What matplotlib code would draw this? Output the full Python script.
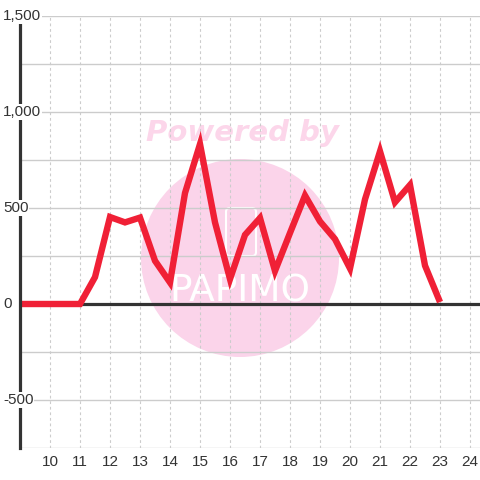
import matplotlib
matplotlib.use("Agg")
import matplotlib.pyplot as plt
import matplotlib.transforms as mtransforms
from matplotlib.patches import Circle, FancyBboxPatch
import numpy as np

# data
hours = [9, 10, 11, 11.5, 12, 12.5, 13, 13.5, 14, 14.5, 15, 15.5, 16, 16.5,
         17, 17.5, 18, 18.5, 19, 19.5, 20, 20.5, 21, 21.5, 22, 22.5, 23]
values = [0, 0, 0, 140, 453, 425, 450, 225, 112, 578, 833, 425, 130, 360,
          448, 172, 370, 565, 430, 338, 185, 545, 795, 530, 620, 200, 10]
x_ticks = list(range(10, 25))
y_major = [-500, 0, 500, 1000, 1500]
y_labels = ["-500", "0", "500", "1,000", "1,500"]
y_grid = [-750, -500, -250, 0, 250, 500, 750, 1000, 1250, 1500]

plt.rcParams['font.family'] = ['Liberation Sans', 'DejaVu Sans']

fig = plt.figure(figsize=(4.8, 4.8), dpi=100)
fig.patch.set_facecolor("white")
ax = fig.add_axes([20 / 480, 1 - 448 / 480, 1 - 20 / 480, (448 - 16) / 480])

ax.set_xlim(9, 24.333)
ax.set_ylim(-750, 1500)

# watermark
ax.add_patch(Circle((240 / 480, 1 - 258 / 480), 99 / 480, transform=fig.transFigure,
                    facecolor="#fbd4ea", edgecolor="none", zorder=0.1, clip_on=False))
ax.add_patch(FancyBboxPatch((226 / 480, 1 - 256 / 480), 30 / 480, 48 / 480,
                            boxstyle="round,pad=0,rounding_size=0.008",
                            transform=fig.transFigure, facecolor="none",
                            edgecolor="white", linewidth=1.5, zorder=0.2, clip_on=False))
ax.text(242 / 480, 1 - 133 / 480, "Powered by", transform=fig.transFigure,
        fontsize=21, fontweight="bold", fontstyle="italic", color="#fcd6ea",
        ha="center", va="center", zorder=0.2, family="DejaVu Sans")
ax.text(240 / 480, 1 - 291 / 480, "PAPIMO", transform=fig.transFigure,
        fontsize=27, color="white", ha="center", va="center", zorder=0.2,
        family="DejaVu Sans")

# grid
ax.set_yticks(y_grid)
ax.set_yticklabels([])
ax.set_xticks(x_ticks)
ax.set_xticklabels([str(t) for t in x_ticks])
ax.tick_params(axis="both", length=0)
ax.tick_params(axis="x", labelsize=11, labelcolor="#333333", pad=5)
ax.grid(axis="y", color="#cccccc", linewidth=1.0, linestyle="-")
ax.grid(axis="x", color="#cccccc", linewidth=0.8, linestyle=(0, (2.5, 2.5)))
ax.set_axisbelow(True)

for s in ["top", "right", "bottom"]:
    ax.spines[s].set_visible(False)
ax.spines["left"].set_linewidth(2.3)
ax.spines["left"].set_color("#333333")
ax.spines["left"].set_zorder(3)

ax.axhline(0, color="#333333", linewidth=2.3, zorder=1.5)

ax.plot(hours, values, color="#f02036", linewidth=4.6, solid_joinstyle="miter",
        solid_capstyle="butt", zorder=2)

# y labels drawn over the axis line
trans = mtransforms.blended_transform_factory(fig.transFigure, ax.transData)
for v, lab in zip(y_major, y_labels):
    ax.text(3 / 480, v, lab, transform=trans, fontsize=11, color="#333333",
            ha="left", va="center", zorder=4, clip_on=False,
            bbox=dict(facecolor="white", edgecolor="none", pad=0.5))

fig.savefig("out.png", dpi=100)
